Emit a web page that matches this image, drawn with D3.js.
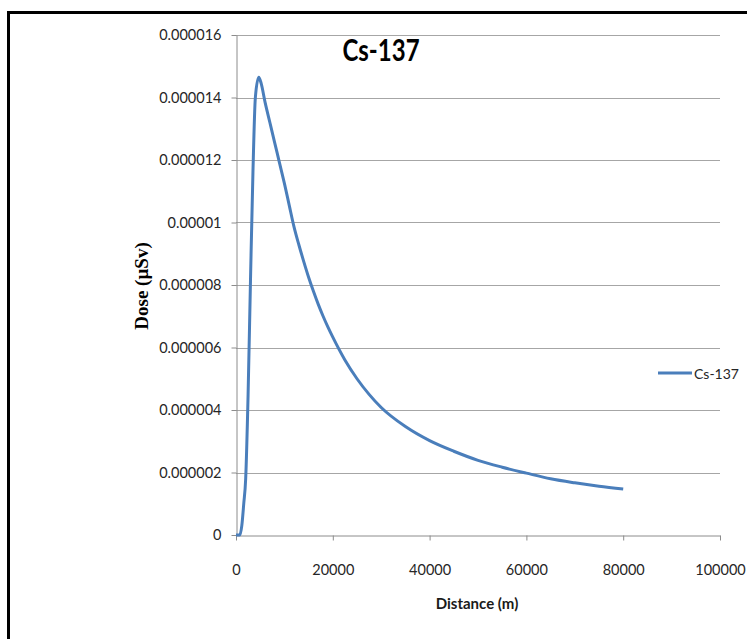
<!DOCTYPE html>
<html lang="en">
<head>
  <meta charset="UTF-8">
  <title>Cs-137 dose vs distance</title>
  <script src="https://cdn.jsdelivr.net/npm/d3@7"></script>
  <style>
    body { margin: 0; background: #fff; }
    .tick text { font-family: Lato, "Open Sans", sans-serif; fill: #262626; }
  </style>
</head>
<body>
  <script>
    // distance in metres, dose in µSv
    const distance = [0, 800, 1200, 1600, 2000, 2500, 3000, 3500, 4000, 4700, 5200, 6000, 7000, 8000, 9000,
                      10000, 11000, 12000, 13000, 14000, 15000, 16000, 17000, 18000, 19000, 20000, 22500,
                      25000, 27500, 30000, 35000, 40000, 45000, 50000, 55000, 60000, 65000, 70000, 75000, 80000];
    const dose = [0, 0, 0.3e-6, 1.0e-6, 1.8e-6, 4.5e-6, 8.2e-6, 11.6e-6, 14.0e-6, 14.65e-6, 14.45e-6, 13.85e-6,
                  13.2e-6, 12.55e-6, 11.9e-6, 11.25e-6, 10.55e-6, 9.85e-6, 9.28e-6, 8.75e-6, 8.25e-6, 7.8e-6,
                  7.38e-6, 7.0e-6, 6.65e-6, 6.33e-6, 5.6e-6, 5.0e-6, 4.5e-6, 4.08e-6, 3.47e-6, 3.02e-6, 2.68e-6,
                  2.39e-6, 2.17e-6, 1.98e-6, 1.8e-6, 1.67e-6, 1.56e-6, 1.47e-6];
    const xTicks = [0, 20000, 40000, 60000, 80000, 100000];
    const yTicks = [0, 0.000002, 0.000004, 0.000006, 0.000008, 0.00001, 0.000012, 0.000014, 0.000016];
    const yTickLabels = ["0", "0.000002", "0.000004", "0.000006", "0.000008", "0.00001", "0.000012", "0.000014", "0.000016"];
    const seriesName = "Cs-137";

    const w = 747, h = 639;
    const padL = 236, padR = 720, padT = 35, padB = 535;
    const lineColor = "#4a7ebb";
    const sans = "Lato, \"Open Sans\", sans-serif";

    const svg = d3.select("body").append("svg")
      .attr("width", w)
      .attr("height", h);

    // outer frame
    svg.append("rect")
      .attr("x", 8.5).attr("y", 12.5)
      .attr("width", w + 20).attr("height", h + 20)
      .attr("fill", "none")
      .attr("stroke", "#000")
      .attr("stroke-width", 3);

    const xScale = d3.scaleLinear().domain([0, 100000]).range([padL, padR]);
    const yScale = d3.scaleLinear().domain([0, 0.000016]).range([padB, padT]);

    // gridlines
    svg.append("g")
      .selectAll("line")
      .data(yTicks.slice(1))
      .enter()
      .append("line")
      .attr("x1", padL).attr("x2", padR)
      .attr("y1", d => Math.round(yScale(d)) + 0.5)
      .attr("y2", d => Math.round(yScale(d)) + 0.5)
      .attr("stroke", "#a6a6a6")
      .attr("stroke-width", 1.2);

    const xAxis = d3.axisBottom(xScale).tickValues(xTicks).tickSize(5).tickSizeOuter(0).tickFormat(d3.format("d"));
    const yAxis = d3.axisLeft(yScale).tickValues(yTicks).tickSize(5).tickSizeOuter(0)
      .tickFormat((d, i) => yTickLabels[i]);

    const gx = svg.append("g")
      .attr("transform", "translate(0," + (padB + 0.5) + ")")
      .call(xAxis);
    gx.selectAll("text").attr("font-size", 14.5).attr("y", 29);

    const gy = svg.append("g")
      .attr("transform", "translate(" + (padL + 0.5) + ",0)")
      .call(yAxis);
    gy.selectAll("text").attr("font-size", 14.5).attr("x", -15);

    svg.selectAll(".domain, .tick line").attr("stroke", "#8c8c8c");

    // series line
    const line = d3.line()
      .x((d, i) => xScale(distance[i]))
      .y(d => yScale(d))
      .curve(d3.curveMonotoneX);

    svg.append("path")
      .datum(dose)
      .attr("d", line)
      .attr("fill", "none")
      .attr("stroke", lineColor)
      .attr("stroke-width", 3)
      .attr("stroke-linejoin", "round");

    // title
    svg.append("text")
      .attr("transform", "translate(381,61) scale(1,1.3)")
      .attr("text-anchor", "middle")
      .attr("font-family", sans)
      .attr("font-weight", "bold")
      .attr("font-size", 24)
      .text(seriesName);

    // axis titles
    svg.append("text")
      .attr("transform", "translate(148,286) rotate(-90)")
      .attr("text-anchor", "middle")
      .attr("font-family", "\"Liberation Serif\", \"DejaVu Serif\", serif")
      .attr("font-weight", "bold")
      .attr("font-size", 19)
      .text("Dose (µSv)");

    svg.append("text")
      .attr("x", 477).attr("y", 609)
      .attr("text-anchor", "middle")
      .attr("font-family", sans)
      .attr("font-weight", "bold")
      .attr("font-size", 15)
      .attr("fill", "#1a1a1a")
      .text("Distance (m)");

    // legend
    const lg = svg.append("g").attr("transform", "translate(658,373)");
    lg.append("line")
      .attr("x1", 0).attr("x2", 34)
      .attr("stroke", lineColor)
      .attr("stroke-width", 3);
    lg.append("text")
      .attr("x", 36).attr("y", 6)
      .attr("font-family", sans)
      .attr("font-size", 14)
      .attr("fill", "#262626")
      .text(seriesName);
  </script>
</body>
</html>
